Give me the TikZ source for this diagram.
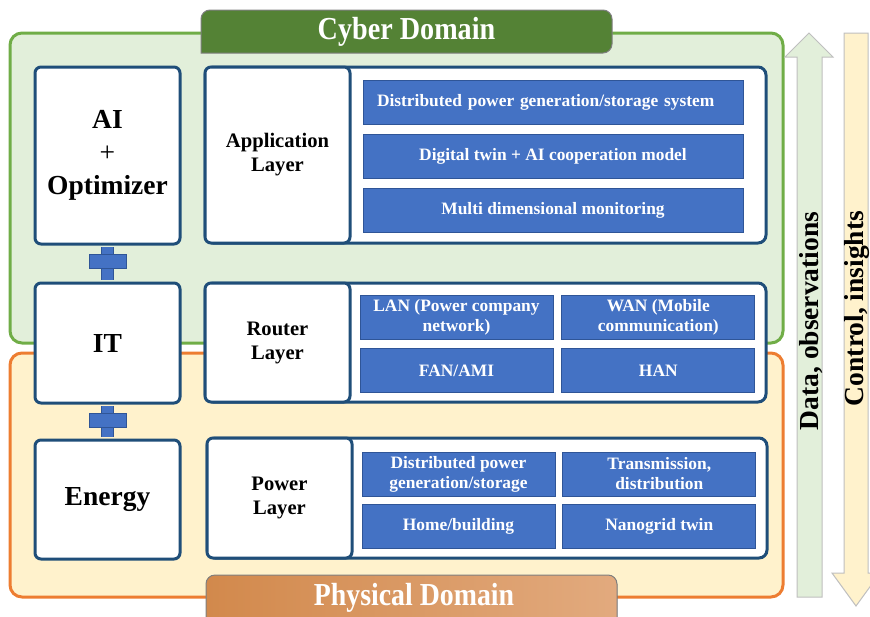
\documentclass[tikz,border=0pt]{standalone}
\usepackage{fontspec}
\setmainfont{Liberation Serif}
\usetikzlibrary{calc, positioning}
\definecolor{cyberfill}{HTML}{E2EFDA}
\definecolor{cyberline}{HTML}{70AD47}
\definecolor{cybertab}{HTML}{548235}
\definecolor{physfill}{HTML}{FFF2CC}
\definecolor{physline}{HTML}{ED7D31}
\definecolor{phystabl}{HTML}{D2894C}
\definecolor{phystabr}{HTML}{E2AA7E}
\definecolor{boxline}{HTML}{1F4E79}
\definecolor{itemfill}{HTML}{4472C4}
\definecolor{itemline}{HTML}{2F5597}
\definecolor{arrowline}{HTML}{BFBFBF}
\definecolor{tabline}{HTML}{7F7F7F}

\begin{document}
\begin{tikzpicture}[x=1pt, y=-1pt,
	domainbox/.style={line width=3pt, rounded corners=12pt},
	blockbox/.style={draw=boxline, fill=white, line width=3pt, rounded corners=6pt, align=center, minimum width=145pt, font=\fontsize{27.5}{33}\selectfont\bfseries},
	layerbox/.style={draw=boxline, fill=white, line width=3pt, rounded corners=8pt},
	labelbox/.style={draw=boxline, fill=white, line width=3pt, rounded corners=6pt, align=center, minimum width=145pt, font=\fontsize{20.6}{24}\selectfont\bfseries},
	itembox/.style={draw=itemline, fill=itemfill, line width=0.8pt, text=white, align=center, minimum width=193pt, minimum height=44pt, inner sep=2pt, font=\fontsize{17.4}{20}\selectfont\bfseries},
	wideitem/.style={itembox, minimum width=380pt},
	plusbar/.style={draw=itemline, fill=itemfill, line width=0.8pt, minimum width=37pt, minimum height=14pt, inner sep=0pt},
	plusstem/.style={draw=itemline, double=itemfill, double distance=11.4pt, line width=0.8pt, shorten <=1.5pt, shorten >=1.5pt},
	tabtext/.style={text=white, anchor=base, font=\fontsize{32}{36}\selectfont\bfseries},
	bigarrow/.style={draw=arrowline, line width=1pt},
	flowtext/.style={rotate=90, font=\fontsize{27.5}{32}\selectfont\bfseries}]
	\useasboundingbox (0,0) rectangle (870,616);

	\filldraw[domainbox, draw=cyberline, fill=cyberfill] (10,33) rectangle (783,343);
	\filldraw[domainbox, draw=physline, fill=physfill] (10,353) rectangle (783,597);

	\filldraw[draw=tabline, fill=cybertab, line width=1pt] (201,53) [rounded corners=9pt] -- (201,10) -- (612,10) -- (612,53) [sharp corners] -- cycle;
	\node[tabtext] (cybertitle) at (406.5,39) {\scalebox{0.88}[1]{Cyber Domain}};
	\filldraw[draw=tabline, left color=phystabl, right color=phystabr, line width=1pt] (206,630) [rounded corners=9pt] -- (206,575) -- (617,575) -- (617,630) [sharp corners] -- cycle;
	\node[tabtext] (physicaltitle) at (414,605) {\scalebox{0.87}[1]{Physical Domain}};

	\node[blockbox, minimum height=177pt] (ai) at (107.5,155.5) {AI\\{\mdseries +}\\Optimizer};
	\node[blockbox, minimum height=120pt] (it) at (107.5,343) {IT};
	\node[blockbox, minimum height=119pt] (energy) at (107.5,499.5) {Energy};

	\draw[plusstem] (ai.south) -- (it.north);
	\node[plusbar] (plusone) at ($(ai.south)!0.45!(it.north)$) {};
	\draw[plusstem] (it.south) -- (energy.north);
	\node[plusbar] (plustwo) at ($(it.south)!0.47!(energy.north)$) {};

	\node[layerbox, minimum width=561pt, minimum height=176pt] (app) at (485.5,155) {};
	\node[labelbox, anchor=west, minimum height=176pt] (applabel) at (app.west) {Application\\Layer};
	\node[layerbox, minimum width=561pt, minimum height=119pt] (router) at (485.5,342.5) {};
	\node[labelbox, anchor=west, minimum height=119pt] (routerlabel) at (router.west) {Router\\Layer};
	\node[layerbox, minimum width=560pt, minimum height=120pt] (power) at (487,498) {};
	\node[labelbox, anchor=west, minimum height=120pt] (powerlabel) at (power.west) {Power\\Layer};

	\node[wideitem, align=left, text width=352pt, inner xsep=14pt] (dgs) at (553,102.5) {Distributed power generation/storage system};
	\node[wideitem, below=9pt of dgs] (dtw) {Digital twin + AI cooperation model};
	\node[wideitem, below=9pt of dtw] (mdm) {Multi dimensional monitoring};

	\node[itembox] (lan) at (456.5,317) {LAN (Power company\\network)};
	\node[itembox, right=8pt of lan] (wan) {WAN (Mobile\\communication)};
	\node[itembox, below=9pt of lan] (fan) {FAN/AMI};
	\node[itembox, below=9pt of wan] (han) {HAN};

	\node[itembox] (dpg) at (458.5,474) {Distributed power\\generation/storage};
	\node[itembox, right=7pt of dpg] (trd) {Transmission,\\distribution};
	\node[itembox, below=8pt of dpg] (home) {Home/building};
	\node[itembox, below=8pt of trd] (nano) {Nanogrid twin};

	\filldraw[bigarrow, fill=cyberfill] (797,597) -- (797,57) -- (785,57) -- (809,33) -- (833,57) -- (822,57) -- (822,597) -- cycle;
	\node[flowtext] (datatext) at (811.5,321) {Data, observations};
	\filldraw[bigarrow, fill=physfill] (844,33) -- (844,573) -- (832,573) -- (856,606) -- (880,573) -- (868,573) -- (868,33) -- cycle;
	\node[flowtext] (controltext) at (857,308.5) {Control, insights};
\end{tikzpicture}
\end{document}
